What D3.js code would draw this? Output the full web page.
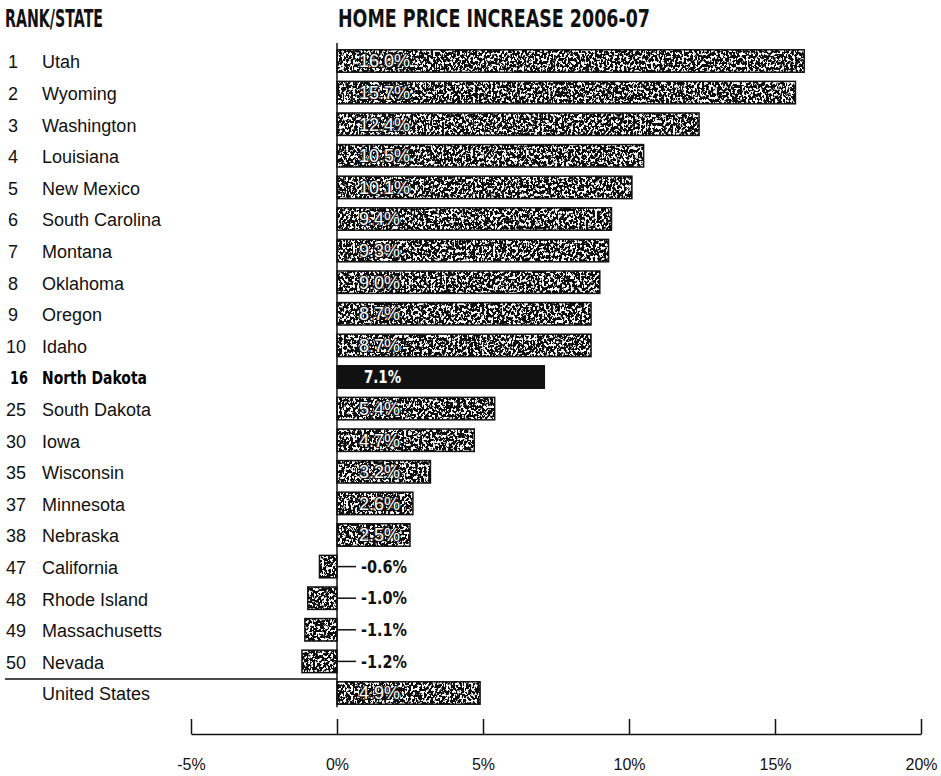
<!DOCTYPE html>
<html>
<head>
<meta charset="utf-8">
<script src="https://cdn.jsdelivr.net/npm/d3@7"></script>
<style>
  html, body { margin: 0; padding: 0; background: #fff; }
  svg { display: block; }
  .lbl { font-family: "Liberation Sans", Arial, sans-serif; font-size: 18px; fill: #111; }
  .hdr { font-family: "DejaVu Sans", sans-serif; font-weight: bold; font-size: 24px; fill: #111; }
  .heavy { font-family: "DejaVu Sans", sans-serif; font-weight: bold; }
</style>
</head>
<body>
<script>
// Home price increase 2006-07, selected states ranked
const ranks  = ["1","2","3","4","5","6","7","8","9","10","16","25","30","35","37","38","47","48","49","50",""];
const states = ["Utah","Wyoming","Washington","Louisiana","New Mexico","South Carolina","Montana","Oklahoma",
                "Oregon","Idaho","North Dakota","South Dakota","Iowa","Wisconsin","Minnesota","Nebraska",
                "California","Rhode Island","Massachusetts","Nevada","United States"];
const values = [16.0,15.7,12.4,10.5,10.1,9.4,9.3,9.0,8.7,8.7,7.1,5.4,4.7,3.2,2.6,2.5,-0.6,-1.0,-1.1,-1.2,4.9];
const highlight = "North Dakota";
const tickValues = [-5,0,5,10,15,20];
const tickLabels = ["-5%","0%","5%","10%","15%","20%"];

const W = 941, H = 776;
const svg = d3.select("body").append("svg").attr("width", W).attr("height", H);

// speckled halftone fill for the bars
const defs = svg.append("defs");
const f = defs.append("filter").attr("id","grain")
  .attr("x",0).attr("y",0).attr("width",1).attr("height",1);
f.append("feTurbulence").attr("type","fractalNoise").attr("baseFrequency","0.45 0.34")
  .attr("numOctaves",3).attr("seed",11).attr("result","noise");
f.append("feColorMatrix").attr("in","noise").attr("type","matrix")
  .attr("values","0 0 0 0 1  0 0 0 0 1  0 0 0 0 1  16 0 0 0 -8.3").attr("result","specks");
f.append("feComposite").attr("in","specks").attr("in2","SourceAlpha").attr("operator","in").attr("result","s2");
const fm = f.append("feMerge");
fm.append("feMergeNode").attr("in","SourceGraphic");
fm.append("feMergeNode").attr("in","s2");

const x = d3.scaleLinear().domain([-5,20]).range([191,921]);
const y = d3.scaleBand().domain(d3.range(states.length)).range([45.2, 45.2 + 31.6*states.length]).paddingInner(0.29).paddingOuter(0.145);

// condensed heavy text: squeeze glyphs to a given width
function squeeze(sel, w) { return sel.attr("textLength", w).attr("lengthAdjust","spacingAndGlyphs"); }

// headers
squeeze(svg.append("text").attr("class","hdr").attr("x",5).attr("y",27).text("RANK/STATE"), 98);
squeeze(svg.append("text").attr("class","hdr").attr("x",338).attr("y",27).text("HOME PRICE INCREASE 2006-07"), 312);

// row labels
const rows = svg.append("g");
states.forEach((s,i) => {
  const cy = y(i) + y.bandwidth()/2 + 1;
  const hi = s === highlight;
  if (hi) {
    const g = rows.append("text").attr("class","heavy").attr("y", cy).attr("dy","0.36em").style("font-size","18px");
    squeeze(g.append("tspan").attr("x", 10).text(ranks[i]), 18);
    const t2 = rows.append("text").attr("class","heavy").attr("y", cy).attr("dy","0.36em").style("font-size","18px")
      .attr("x", 42).text(s);
    squeeze(t2, 105);
    return;
  }
  const t = rows.append("text").attr("y", cy).attr("dy","0.36em").attr("class", "lbl");
  if (ranks[i]) t.append("tspan").attr("x", ranks[i].length === 1 ? 8 : 6).text(ranks[i]);
  t.append("tspan").attr("x", 42).text(s);
});

// separator above national total
svg.append("line").attr("x1",5).attr("x2",x(0)).attr("y1",679).attr("y2",679)
  .attr("stroke","#111").attr("stroke-width",1.5);

// bars
const bars = svg.append("g");
values.forEach((v,i) => {
  const x0 = x(Math.min(0,v)), w = Math.abs(x(v)-x(0));
  const hi = states[i] === highlight;
  const r = bars.append("rect").attr("x",x0).attr("y",y(i)).attr("width",w).attr("height",y.bandwidth())
    .attr("fill","#111");
  if (!hi) r.attr("filter","url(#grain)");
  bars.append("rect").attr("x",x0).attr("y",y(i)).attr("width",w).attr("height",y.bandwidth())
    .attr("fill","none").attr("stroke","#111").attr("stroke-width",1.5);
  const cy = y(i) + y.bandwidth()/2;
  const label = v.toFixed(1) + "%";
  if (v >= 0) {
    if (hi) {
      squeeze(bars.append("text").attr("class","heavy").attr("x", x(0)+27).attr("y", cy).attr("dy","0.36em")
        .style("font-size","18px").attr("fill","#fff").text(label), 37);
    } else {
      bars.append("text").attr("class","lbl").attr("x", x(0)+22).attr("y", cy).attr("dy","0.36em")
        .style("fill","#fff").attr("stroke","#111").attr("stroke-width",2.2)
        .attr("paint-order","stroke").text(label);
    }
  } else {
    bars.append("line").attr("x1",x(0)).attr("x2",x(0)+19).attr("y1",cy).attr("y2",cy)
      .attr("stroke","#111").attr("stroke-width",1.5);
    squeeze(bars.append("text").attr("class","heavy").attr("x", x(0)+24).attr("y", cy).attr("dy","0.36em")
      .style("font-size","17px").attr("fill","#111").text(label), 46);
  }
});

// zero line
svg.append("line").attr("x1",x(0)).attr("x2",x(0)).attr("y1",43).attr("y2",y(states.length-1)+y.bandwidth()+3)
  .attr("stroke","#111").attr("stroke-width",1.5);

// bracket axis
const axis = d3.axisBottom(x).tickValues(tickValues).tickFormat((d,i)=>tickLabels[i])
  .tickSizeInner(-15).tickSizeOuter(0).tickPadding(25);
const ag = svg.append("g").attr("transform","translate(0,734)").call(axis);
ag.select(".domain").attr("stroke","#111").attr("stroke-width",1.5);
ag.selectAll(".tick line").attr("stroke","#111").attr("stroke-width",1.5);
ag.selectAll(".tick text").attr("fill","#111")
  .style("font-family","'Liberation Sans', Arial, sans-serif").style("font-size","16px");
</script>
</body>
</html>
